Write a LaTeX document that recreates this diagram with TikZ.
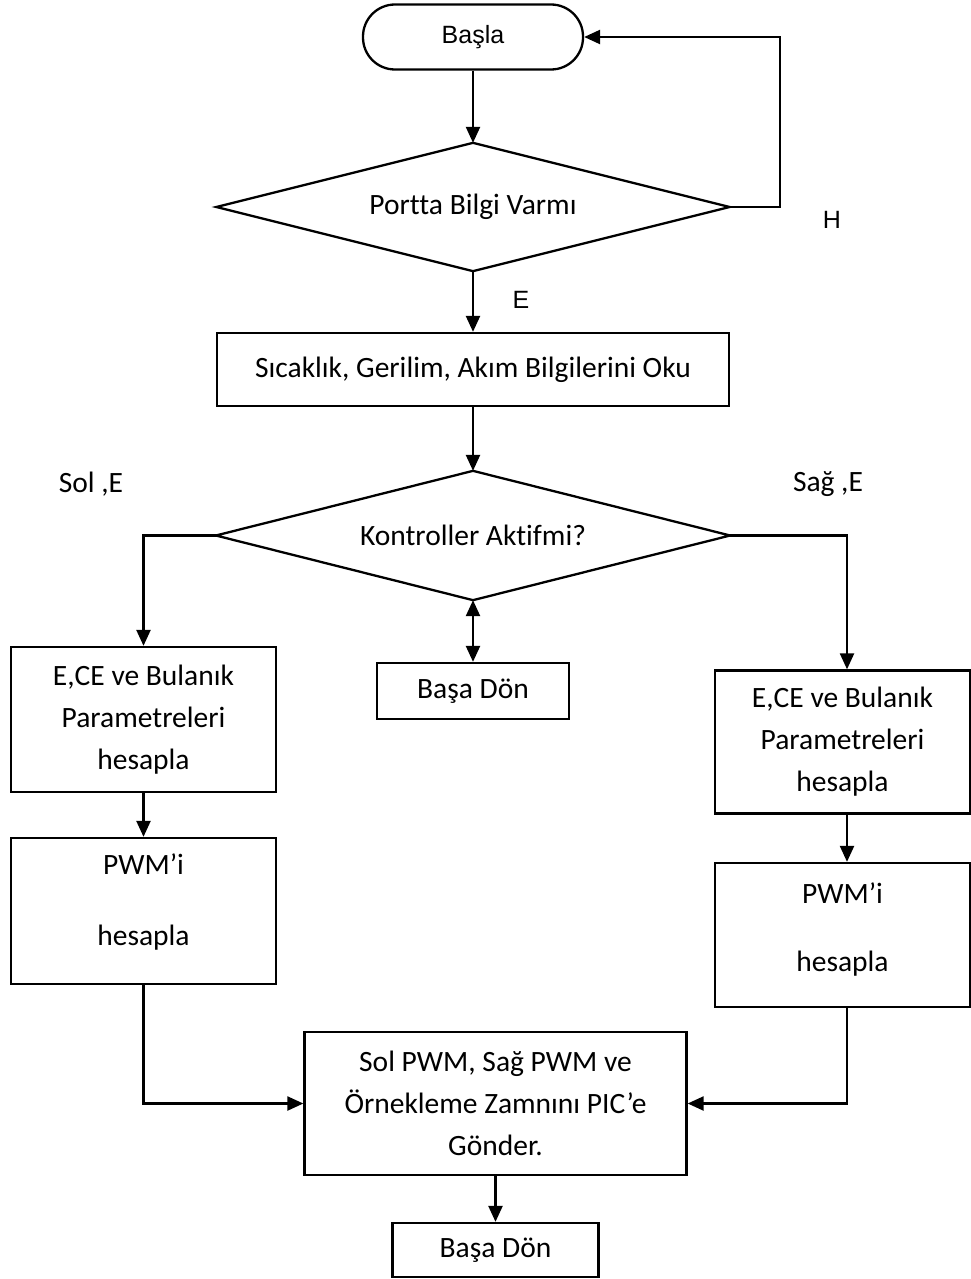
\documentclass[tikz,border=0pt]{standalone}
\usepackage{fontspec}
\setmainfont{Carlito}[Ligatures=NoCommon]
\newfontfamily\arialfont{Liberation Sans}
\usetikzlibrary{arrows.meta}
\begin{document}
\begin{tikzpicture}[x=1pt,y=-1pt,
  line width=2.3pt,
  every node/.style={font=\fontsize{29.5}{42}\selectfont, inner sep=0pt},
  box/.style={draw, rectangle, align=center},
  decision/.style={rectangle, align=center},
  txt/.style={align=center},
  arr/.style={-{Triangle[length=16pt,width=14pt]}},
  biarr/.style={{Triangle[length=16pt,width=14pt]}-{Triangle[length=16pt,width=14pt]}},
  lbl/.style={font=\arialfont\fontsize{25}{30}\selectfont}]
\useasboundingbox (0,0) rectangle (971,1279);

% main column
\node[draw, rounded corners=32pt, minimum width=220pt, minimum height=65pt,
      font=\arialfont\fontsize{25}{30}\selectfont] (start) at (473,37) {Başla};
\node[decision, minimum width=511pt, minimum height=126pt] (q1) at (473,207) {Portta Bilgi Varmı};
\draw (q1.north) -- (q1.east) -- (q1.south) -- (q1.west) -- cycle;
\node[box, minimum width=512pt, minimum height=73pt] (read) at (473,369.5) {Sıcaklık, Gerilim, Akım Bilgilerini Oku};
\node[decision, minimum width=512pt, minimum height=127pt] (q2) at (473,535.5) {Kontroller Aktifmi?};
\draw (q2.north) -- (q2.east) -- (q2.south) -- (q2.west) -- cycle;
\node[box, minimum width=192pt, minimum height=56pt] (back1) at (473,691) {Başa Dön};

% left branch
\node[box, minimum width=265pt, minimum height=145pt] (lcalc) at (143.5,719.5) {E,CE ve Bulanık\\Parametreleri\\hesapla};
\node[box, minimum width=265pt, minimum height=146pt] (lpwm) at (143.5,911) {};
\node[txt, font=\fontsize{29.5}{71}\selectfont] (lpwmtext) at (143.5,901.5) {PWM’i\\hesapla};

% right branch
\node[box, minimum width=255pt, minimum height=143pt] (rcalc) at (842.5,742) {E,CE ve Bulanık\\Parametreleri\\hesapla};
\node[box, minimum width=255pt, minimum height=144pt] (rpwm) at (842.5,935) {};
\node[txt, font=\fontsize{29.5}{68}\selectfont] (rpwmtext) at (842.5,929) {PWM’i\\hesapla};

% merge
\node[box, minimum width=382pt, minimum height=143pt] (send) at (495.5,1103.5) {Sol PWM, Sağ PWM ve\\Örnekleme Zamnını PIC’e\\Gönder.};
\node[box, minimum width=206pt, minimum height=54pt] (back2) at (495.5,1250) {Başa Dön};

% branch labels
\node[lbl] (hlabel) at (832,220) {H};
\node[lbl] (elabel) at (521,300) {E};
\node (sollabel) at (91,484) {Sol ,E};
\node (saglabel) at (828,484) {Sağ ,E};

% connectors
\draw[arr] (start) -- (q1.north);
\draw[arr] (q1.east) -- ++(50,0) |- (start.east);
\draw[arr] (q1.south) -- (read.north);
\draw[arr] (read.south) -- (q2.north);
\draw[arr] (q2.west) -| (lcalc.north);
\draw[arr] (q2.east) -| ([xshift=4.5pt]rcalc.north);
\draw[biarr] (q2.south) -- (back1.north);
\draw[arr] (lcalc.south) -- (lpwm.north);
\draw[arr] ([xshift=4.5pt]rcalc.south) -- ([xshift=4.5pt]rpwm.north);
\draw[arr] (lpwm.south) |- (send.west);
\draw[arr] ([xshift=4.5pt]rpwm.south) |- (send.east);
\draw[arr] (send.south) -- (back2.north);
\end{tikzpicture}
\end{document}
